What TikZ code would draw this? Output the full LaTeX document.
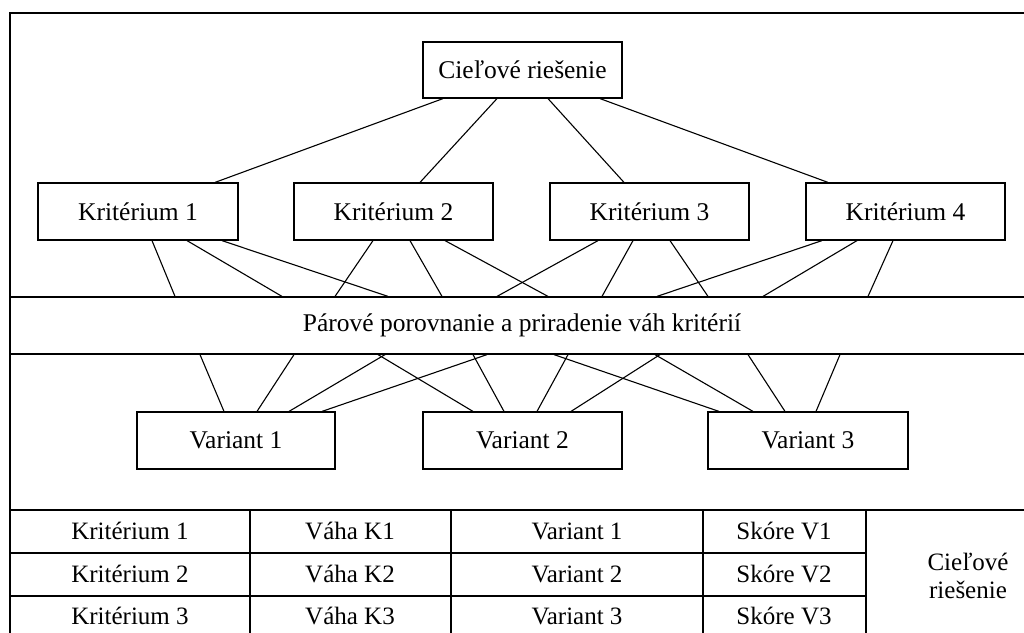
\documentclass[tikz,border=0pt]{standalone}
\usepackage{fontspec}
\setmainfont{Liberation Serif}
\begin{document}
\begin{tikzpicture}[x=1pt,y=-1pt,line width=1.2pt,
  box/.style={draw,rectangle,inner sep=0pt,minimum width=199pt,minimum height=57pt,
    font=\fontsize{25.5}{30}\selectfont},
  cell/.style={inner sep=0pt,align=center,font=\fontsize{25}{28}\selectfont},
  link/.style={line width=1.1pt}]
\useasboundingbox (0,0) rectangle (1024,632);
\clip (0,0) rectangle (1024,632);

% outer frame (runs off the page on the right and at the bottom)
\draw (10,660) -- (10,13) -- (1040,13);

% goal and criteria
\node[box,minimum height=56pt] (goal) at (522.5,70) {Cieľové riešenie};
\node[box,minimum width=200pt] (k1) at (138,211.5) {Kritérium 1};
\node[box] (k2) at (393.5,211.5) {Kritérium 2};
\node[box] (k3) at (649.5,211.5) {Kritérium 3};
\node[box] (k4) at (905.5,211.5) {Kritérium 4};

% pairwise comparison band
\node[box,minimum width=1024pt] (band) at (522,325.5)
  {Párové porovnanie a priradenie váh kritérií};

% variants
\node[box,minimum width=198pt,minimum height=57pt] (v1) at (236,440.5) {Variant 1};
\node[box] (v2) at (522.5,440.5) {Variant 2};
\node[box,minimum width=200pt] (v3) at (808,440.5) {Variant 3};

% goal -> criteria
\draw[link] ([xshift=-79.5pt]goal.south) -- ([xshift=77pt]k1.north);
\draw[link] ([xshift=-25.5pt]goal.south) -- ([xshift=26.5pt]k2.north);
\draw[link] ([xshift=25.5pt]goal.south) -- ([xshift=-25.5pt]k3.north);
\draw[link] ([xshift=77.5pt]goal.south) -- ([xshift=-77.5pt]k4.north);

% criteria -> band
\draw[link] ([xshift=14pt]k1.south) -- ([xshift=-347pt]band.north);
\draw[link] ([xshift=49pt]k1.south) -- ([xshift=-240pt]band.north);
\draw[link] ([xshift=84pt]k1.south) -- ([xshift=-134pt]band.north);
\draw[link] ([xshift=-20.5pt]k2.south) -- ([xshift=-187pt]band.north);
\draw[link] ([xshift=16.5pt]k2.south) -- ([xshift=-80pt]band.north);
\draw[link] ([xshift=51.5pt]k2.south) -- ([xshift=26pt]band.north);
\draw[link] ([xshift=-51.5pt]k3.south) -- ([xshift=-25pt]band.north);
\draw[link] ([xshift=-16.5pt]k3.south) -- ([xshift=80pt]band.north);
\draw[link] ([xshift=20.5pt]k3.south) -- ([xshift=186pt]band.north);
\draw[link] ([xshift=-83.5pt]k4.south) -- ([xshift=135pt]band.north);
\draw[link] ([xshift=-48.5pt]k4.south) -- ([xshift=241pt]band.north);
\draw[link] ([xshift=-12.5pt]k4.south) -- ([xshift=346pt]band.north);

% band -> variants
\draw[link] ([xshift=-322pt]band.south) -- ([xshift=-12pt]v1.north);
\draw[link] ([xshift=-228pt]band.south) -- ([xshift=21pt]v1.north);
\draw[link] ([xshift=-137pt]band.south) -- ([xshift=53pt]v1.north);
\draw[link] ([xshift=-35pt]band.south) -- ([xshift=86pt]v1.north);
\draw[link] ([xshift=-144pt]band.south) -- ([xshift=-49.5pt]v2.north);
\draw[link] ([xshift=-49pt]band.south) -- ([xshift=-18.5pt]v2.north);
\draw[link] ([xshift=46pt]band.south) -- ([xshift=14.5pt]v2.north);
\draw[link] ([xshift=138pt]band.south) -- ([xshift=48.5pt]v2.north);
\draw[link] ([xshift=32pt]band.south) -- ([xshift=-89pt]v3.north);
\draw[link] ([xshift=133pt]band.south) -- ([xshift=-55pt]v3.north);
\draw[link] ([xshift=226pt]band.south) -- ([xshift=-23pt]v3.north);
\draw[link] ([xshift=318pt]band.south) -- ([xshift=8pt]v3.north);

% summary table
\draw (10,510) -- (1040,510);
\draw (10,553) -- (866,553);
\draw (10,596) -- (866,596);
\foreach \cx in {250,451,703,866} \draw (\cx,510) -- (\cx,650);

\node[cell] (c11) at (130,531) {Kritérium 1};
\node[cell] (c21) at (130,574) {Kritérium 2};
\node[cell] (c31) at (130,616) {Kritérium 3};
\node[cell] (c12) at (350,531) {Váha K1};
\node[cell] (c22) at (350,574) {Váha K2};
\node[cell] (c32) at (350,616) {Váha K3};
\node[cell] (c13) at (577,531) {Variant 1};
\node[cell] (c23) at (577,574) {Variant 2};
\node[cell] (c33) at (577,616) {Variant 3};
\node[cell] (c14) at (784,531) {Skóre V1};
\node[cell] (c24) at (784,574) {Skóre V2};
\node[cell] (c34) at (784,616) {Skóre V3};
\node[cell] (c5) at (968,576) {Cieľové\\riešenie};
\end{tikzpicture}
\end{document}
